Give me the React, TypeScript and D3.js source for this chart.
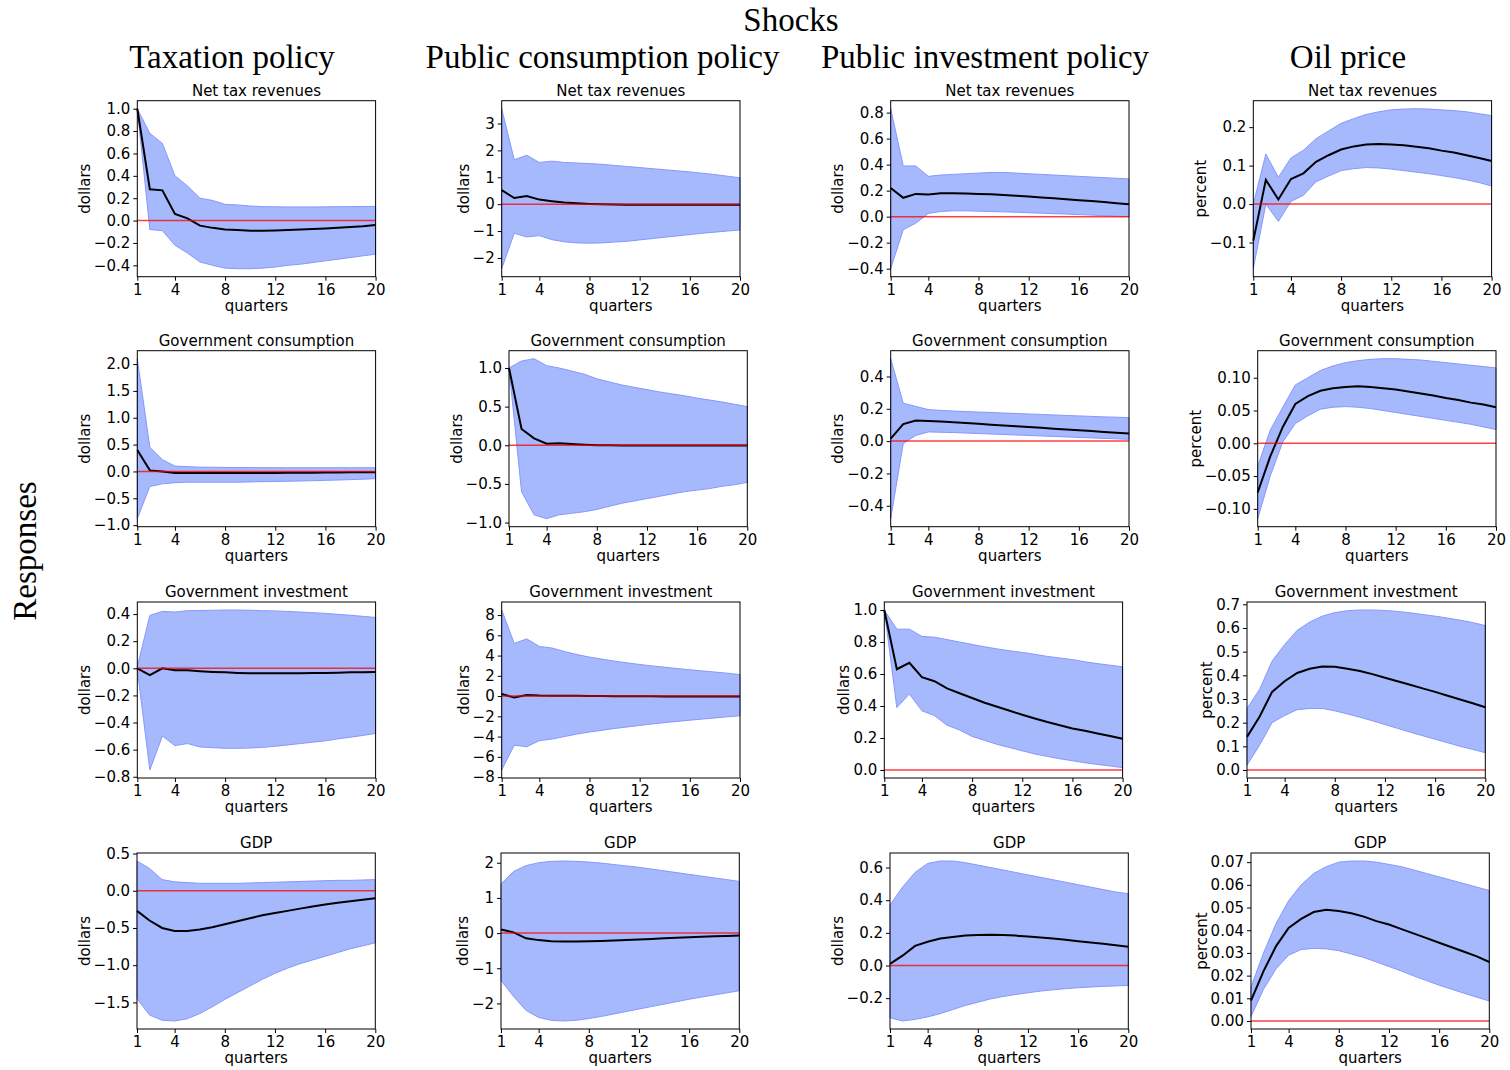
import React, { useEffect, useRef } from "react";
import * as d3 from "d3";

// horizon (quarters after the shock)
const quarters = [1, 2, 3, 4, 5, 6, 7, 8, 9, 10, 11, 12, 13, 14, 15, 16, 17, 18, 19, 20];
const xTicks = [1, 4, 8, 12, 16, 20];

const shocks = ["Taxation policy", "Public consumption policy", "Public investment policy", "Oil price"];
const responses = ["Net tax revenues", "Government consumption", "Government investment", "GDP"];
const units = ["dollars", "dollars", "dollars", "percent"];

// ---- Net tax revenues ----
const taxNtrMed = [1.0, 0.28, 0.27, 0.06, 0.02, -0.045, -0.065, -0.08, -0.085, -0.09, -0.09, -0.088, -0.085, -0.08, -0.075, -0.07, -0.063, -0.057, -0.05, -0.04];
const taxNtrLo = [1.0, -0.08, -0.09, -0.22, -0.29, -0.37, -0.4, -0.425, -0.43, -0.43, -0.425, -0.415, -0.4, -0.39, -0.375, -0.36, -0.345, -0.33, -0.315, -0.3];
const taxNtrHi = [1.0, 0.78, 0.69, 0.4, 0.31, 0.2, 0.18, 0.145, 0.14, 0.13, 0.125, 0.123, 0.122, 0.122, 0.122, 0.123, 0.124, 0.125, 0.126, 0.127];

const conNtrMed = [0.52, 0.23, 0.3, 0.17, 0.11, 0.06, 0.03, 0.01, 0.0, -0.01, -0.02, -0.02, -0.025, -0.025, -0.025, -0.025, -0.025, -0.02, -0.02, -0.02];
const conNtrLo = [-2.4, -1.08, -1.22, -1.17, -1.32, -1.4, -1.44, -1.45, -1.44, -1.41, -1.38, -1.33, -1.28, -1.23, -1.18, -1.13, -1.08, -1.04, -1.0, -0.96];
const conNtrHi = [3.55, 1.65, 1.82, 1.55, 1.6, 1.55, 1.53, 1.51, 1.48, 1.44, 1.4, 1.36, 1.32, 1.28, 1.24, 1.2, 1.15, 1.1, 1.04, 0.98];

const invNtrMed = [0.22, 0.145, 0.175, 0.17, 0.18, 0.18, 0.178, 0.175, 0.172, 0.167, 0.161, 0.155, 0.148, 0.141, 0.134, 0.127, 0.12, 0.112, 0.104, 0.095];
const invNtrLo = [-0.4, -0.1, -0.05, 0.025, 0.04, 0.045, 0.045, 0.042, 0.04, 0.037, 0.034, 0.03, 0.027, 0.023, 0.02, 0.016, 0.012, 0.008, 0.004, 0.0];
const invNtrHi = [0.83, 0.39, 0.39, 0.31, 0.32, 0.325, 0.33, 0.335, 0.34, 0.34, 0.335, 0.33, 0.325, 0.32, 0.315, 0.31, 0.305, 0.3, 0.295, 0.29];

const oilNtrMed = [-0.095, 0.063, 0.012, 0.065, 0.08, 0.11, 0.127, 0.142, 0.15, 0.155, 0.156, 0.155, 0.153, 0.149, 0.145, 0.139, 0.134, 0.127, 0.12, 0.112];
const oilNtrLo = [-0.168, 0.0, -0.045, 0.007, 0.023, 0.058, 0.073, 0.087, 0.092, 0.095, 0.094, 0.091, 0.087, 0.083, 0.079, 0.074, 0.069, 0.063, 0.056, 0.047];
const oilNtrHi = [0.0, 0.13, 0.07, 0.12, 0.14, 0.17, 0.19, 0.21, 0.222, 0.233, 0.24, 0.245, 0.247, 0.248, 0.247, 0.245, 0.243, 0.24, 0.235, 0.23];

// ---- Government consumption ----
const taxGcMed = [0.4, 0.02, 0.0, -0.03, -0.03, -0.03, -0.03, -0.03, -0.03, -0.03, -0.03, -0.028, -0.026, -0.024, -0.022, -0.02, -0.018, -0.016, -0.015, -0.013];
const taxGcLo = [-0.88, -0.28, -0.23, -0.21, -0.2, -0.2, -0.2, -0.2, -0.2, -0.195, -0.19, -0.187, -0.183, -0.178, -0.172, -0.166, -0.16, -0.152, -0.144, -0.135];
const taxGcHi = [2.1, 0.45, 0.22, 0.1, 0.09, 0.08, 0.078, 0.075, 0.073, 0.072, 0.071, 0.07, 0.07, 0.07, 0.07, 0.07, 0.07, 0.07, 0.07, 0.07];

const conGcMed = [1.0, 0.21, 0.09, 0.02, 0.025, 0.015, 0.008, 0.0, 0.0, -0.002, -0.003, -0.004, -0.004, -0.004, -0.004, -0.004, -0.003, -0.003, -0.003, -0.003];
const conGcLo = [1.0, -0.6, -0.9, -0.95, -0.9, -0.88, -0.86, -0.83, -0.79, -0.75, -0.72, -0.69, -0.66, -0.63, -0.6, -0.58, -0.56, -0.53, -0.51, -0.48];
const conGcHi = [1.0, 1.09, 1.12, 1.03, 1.0, 0.96, 0.92, 0.86, 0.82, 0.78, 0.75, 0.72, 0.69, 0.665, 0.64, 0.61, 0.585, 0.56, 0.53, 0.5];

const invGcMed = [0.015, 0.105, 0.127, 0.125, 0.121, 0.117, 0.112, 0.107, 0.102, 0.097, 0.092, 0.087, 0.082, 0.077, 0.072, 0.067, 0.062, 0.057, 0.052, 0.047];
const invGcLo = [-0.48, -0.015, 0.035, 0.057, 0.055, 0.053, 0.05, 0.047, 0.044, 0.041, 0.038, 0.035, 0.032, 0.029, 0.026, 0.023, 0.02, 0.017, 0.014, 0.011];
const invGcHi = [0.51, 0.235, 0.215, 0.195, 0.19, 0.186, 0.183, 0.18, 0.177, 0.174, 0.171, 0.168, 0.165, 0.162, 0.159, 0.156, 0.153, 0.15, 0.148, 0.145];

const oilGcMed = [-0.075, -0.02, 0.025, 0.06, 0.072, 0.08, 0.084, 0.086, 0.087, 0.086, 0.084, 0.082, 0.079, 0.076, 0.073, 0.069, 0.066, 0.062, 0.059, 0.055];
const oilGcLo = [-0.115, -0.05, 0.002, 0.03, 0.042, 0.052, 0.055, 0.056, 0.055, 0.053, 0.05, 0.047, 0.044, 0.041, 0.038, 0.035, 0.032, 0.029, 0.025, 0.021];
const oilGcHi = [-0.035, 0.02, 0.055, 0.089, 0.1, 0.111, 0.118, 0.123, 0.126, 0.128, 0.129, 0.129, 0.128, 0.127, 0.125, 0.123, 0.121, 0.119, 0.117, 0.115];

// ---- Government investment ----
const taxGiMed = [0.0, -0.05, 0.0, -0.015, -0.015, -0.022, -0.027, -0.03, -0.034, -0.036, -0.037, -0.037, -0.037, -0.036, -0.035, -0.034, -0.032, -0.03, -0.029, -0.027];
const taxGiLo = [-0.01, -0.75, -0.5, -0.57, -0.555, -0.58, -0.585, -0.59, -0.59, -0.588, -0.583, -0.575, -0.565, -0.555, -0.545, -0.535, -0.52, -0.508, -0.495, -0.48];
const taxGiHi = [0.01, 0.39, 0.42, 0.415, 0.425, 0.426, 0.428, 0.43, 0.43, 0.428, 0.425, 0.423, 0.419, 0.415, 0.41, 0.405, 0.398, 0.391, 0.383, 0.375];

const conGiMed = [0.2, -0.15, 0.1, 0.05, 0.04, 0.03, 0.02, 0.01, 0.0, -0.01, -0.01, -0.02, -0.02, -0.03, -0.03, -0.03, -0.04, -0.04, -0.04, -0.05];
const conGiLo = [-7.3, -4.85, -5.0, -4.4, -4.25, -4.0, -3.75, -3.55, -3.38, -3.2, -3.05, -2.9, -2.75, -2.62, -2.5, -2.38, -2.27, -2.16, -2.05, -1.95];
const conGiHi = [8.5, 5.2, 5.65, 4.9, 4.75, 4.4, 4.1, 3.85, 3.65, 3.45, 3.28, 3.12, 2.98, 2.85, 2.72, 2.6, 2.48, 2.37, 2.26, 2.12];

const invGiMed = [1.0, 0.63, 0.67, 0.58, 0.555, 0.51, 0.48, 0.45, 0.42, 0.395, 0.37, 0.345, 0.322, 0.3, 0.28, 0.26, 0.245, 0.228, 0.212, 0.195];
const invGiLo = [1.0, 0.39, 0.475, 0.37, 0.34, 0.28, 0.25, 0.21, 0.185, 0.16, 0.14, 0.12, 0.1, 0.085, 0.07, 0.058, 0.045, 0.035, 0.025, 0.015];
const invGiHi = [1.0, 0.88, 0.88, 0.835, 0.83, 0.815, 0.8, 0.785, 0.77, 0.757, 0.745, 0.735, 0.723, 0.71, 0.7, 0.69, 0.676, 0.665, 0.655, 0.645];

const oilGiMed = [0.14, 0.225, 0.33, 0.375, 0.41, 0.428, 0.437, 0.436, 0.428, 0.418, 0.405, 0.39, 0.375, 0.36, 0.345, 0.33, 0.314, 0.298, 0.282, 0.265];
const oilGiLo = [0.02, 0.105, 0.2, 0.23, 0.255, 0.26, 0.26, 0.25, 0.237, 0.223, 0.208, 0.192, 0.176, 0.16, 0.145, 0.13, 0.115, 0.1, 0.087, 0.073];
const oilGiHi = [0.26, 0.34, 0.46, 0.53, 0.59, 0.625, 0.65, 0.665, 0.673, 0.676, 0.676, 0.674, 0.67, 0.664, 0.657, 0.65, 0.642, 0.633, 0.623, 0.61];

// ---- GDP ----
const taxGdpMed = [-0.27, -0.4, -0.5, -0.54, -0.54, -0.52, -0.49, -0.45, -0.41, -0.37, -0.33, -0.3, -0.27, -0.24, -0.21, -0.185, -0.16, -0.14, -0.12, -0.1];
const taxGdpLo = [-1.45, -1.67, -1.74, -1.75, -1.72, -1.65, -1.56, -1.46, -1.37, -1.28, -1.19, -1.11, -1.04, -0.98, -0.93, -0.88, -0.83, -0.78, -0.74, -0.7];
const taxGdpHi = [0.4, 0.3, 0.15, 0.12, 0.11, 0.1, 0.1, 0.1, 0.1, 0.105, 0.11, 0.115, 0.12, 0.125, 0.13, 0.135, 0.14, 0.14, 0.145, 0.15];

const conGdpMed = [0.1, 0.02, -0.15, -0.2, -0.23, -0.24, -0.24, -0.235, -0.225, -0.21, -0.195, -0.18, -0.165, -0.15, -0.135, -0.12, -0.105, -0.09, -0.08, -0.07];
const conGdpLo = [-1.35, -1.8, -2.2, -2.4, -2.48, -2.5, -2.48, -2.43, -2.37, -2.3, -2.23, -2.16, -2.09, -2.02, -1.95, -1.88, -1.82, -1.76, -1.7, -1.64];
const conGdpHi = [1.4, 1.75, 1.92, 2.0, 2.04, 2.05, 2.04, 2.02, 1.99, 1.95, 1.91, 1.87, 1.82, 1.77, 1.72, 1.67, 1.62, 1.57, 1.52, 1.47];

const invGdpMed = [0.01, 0.06, 0.12, 0.145, 0.165, 0.175, 0.183, 0.187, 0.188, 0.187, 0.183, 0.178, 0.172, 0.165, 0.157, 0.149, 0.141, 0.133, 0.124, 0.115];
const invGdpLo = [-0.32, -0.34, -0.33, -0.315, -0.295, -0.27, -0.245, -0.225, -0.205, -0.19, -0.178, -0.167, -0.157, -0.149, -0.142, -0.136, -0.132, -0.128, -0.125, -0.122];
const invGdpHi = [0.37, 0.48, 0.57, 0.625, 0.64, 0.64, 0.63, 0.615, 0.6, 0.585, 0.57, 0.555, 0.54, 0.525, 0.51, 0.495, 0.48, 0.465, 0.45, 0.44];

const oilGdpMed = [0.009, 0.022, 0.033, 0.041, 0.045, 0.048, 0.049, 0.0485, 0.0475, 0.046, 0.044, 0.0425, 0.0405, 0.0385, 0.0365, 0.0345, 0.0325, 0.0305, 0.0285, 0.026];
const oilGdpLo = [0.002, 0.014, 0.023, 0.029, 0.0315, 0.032, 0.0318, 0.031, 0.0295, 0.028, 0.026, 0.024, 0.022, 0.0198, 0.0178, 0.0158, 0.014, 0.0122, 0.0105, 0.0088];
const oilGdpHi = [0.015, 0.03, 0.043, 0.053, 0.06, 0.065, 0.068, 0.07, 0.0705, 0.0705, 0.07, 0.069, 0.068, 0.0665, 0.065, 0.0635, 0.062, 0.0605, 0.059, 0.0575];

// y tick labels per panel (row by row)
const yTicks = [
  [[-0.4, -0.2, 0.0, 0.2, 0.4, 0.6, 0.8, 1.0], [-2, -1, 0, 1, 2, 3], [-0.4, -0.2, 0.0, 0.2, 0.4, 0.6, 0.8], [-0.1, 0.0, 0.1, 0.2]],
  [[-1.0, -0.5, 0.0, 0.5, 1.0, 1.5, 2.0], [-1.0, -0.5, 0.0, 0.5, 1.0], [-0.4, -0.2, 0.0, 0.2, 0.4], [-0.1, -0.05, 0.0, 0.05, 0.1]],
  [[-0.8, -0.6, -0.4, -0.2, 0.0, 0.2, 0.4], [-8, -6, -4, -2, 0, 2, 4, 6, 8], [0.0, 0.2, 0.4, 0.6, 0.8, 1.0], [0.0, 0.1, 0.2, 0.3, 0.4, 0.5, 0.6, 0.7]],
  [[-1.5, -1.0, -0.5, 0.0, 0.5], [-2, -1, 0, 1, 2], [-0.2, 0.0, 0.2, 0.4, 0.6], [0.0, 0.01, 0.02, 0.03, 0.04, 0.05, 0.06, 0.07]],
];
const yDecimals = [
  [1, 0, 1, 1],
  [1, 1, 1, 2],
  [1, 0, 1, 1],
  [1, 0, 1, 2],
];

const grid = [
  [[taxNtrMed, taxNtrLo, taxNtrHi], [conNtrMed, conNtrLo, conNtrHi], [invNtrMed, invNtrLo, invNtrHi], [oilNtrMed, oilNtrLo, oilNtrHi]],
  [[taxGcMed, taxGcLo, taxGcHi], [conGcMed, conGcLo, conGcHi], [invGcMed, invGcLo, invGcHi], [oilGcMed, oilGcLo, oilGcHi]],
  [[taxGiMed, taxGiLo, taxGiHi], [conGiMed, conGiLo, conGiHi], [invGiMed, invGiLo, invGiHi], [oilGiMed, oilGiLo, oilGiHi]],
  [[taxGdpMed, taxGdpLo, taxGdpHi], [conGdpMed, conGdpLo, conGdpHi], [invGdpMed, invGdpLo, invGdpHi], [oilGdpMed, oilGdpLo, oilGdpHi]],
];

// layout (px)
const W = 1510;
const H = 1070;
const panelW = 238.3;
const panelH = 176;
const panelTop = [100.7, 350.7, 602, 853];
const panelLeft = [
  [137.3, 501.7, 890.7, 1253.3],
  [137.3, 509, 890.7, 1257.7],
  [137.3, 501.7, 884.3, 1247],
  [137, 501, 890, 1251],
];
const shockCenter = [232, 602.5, 985, 1348];

const serif = "'Liberation Serif', 'Times New Roman', serif";
const sans = "'DejaVu Sans', sans-serif";

const App = () => {
  const ref = useRef<SVGSVGElement>(null);

  useEffect(() => {
    const svg = d3.select(ref.current);
    svg.selectAll("*").remove();
    svg.append("rect").attr("width", W).attr("height", H).attr("fill", "white");

    svg.append("text")
      .attr("x", 791).attr("y", 31)
      .attr("text-anchor", "middle")
      .style("font-family", serif).style("font-size", "33px")
      .text("Shocks");

    shocks.forEach((s, i) => {
      svg.append("text")
        .attr("x", shockCenter[i]).attr("y", 68)
        .attr("text-anchor", "middle")
        .style("font-family", serif).style("font-size", "33px")
        .text(s);
    });

    svg.append("text")
      .attr("transform", "translate(36,551) rotate(-90)")
      .attr("text-anchor", "middle")
      .style("font-family", serif).style("font-size", "33px")
      .text("Responses");

    const x = d3.scaleLinear().domain([1, 20]).range([0, panelW]);

    grid.forEach((row, r) => {
      row.forEach(([med, lo, hi], c) => {
        const g = svg.append("g")
          .attr("transform", `translate(${panelLeft[r][c]},${panelTop[r]})`);

        // matplotlib-like autoscale: data extent (with the zero line) plus 5% margins
        const ext = d3.extent([...lo, ...hi, ...med, 0]) as [number, number];
        const pad = (ext[1] - ext[0]) * 0.05;
        const y = d3.scaleLinear().domain([ext[0] - pad, ext[1] + pad]).range([panelH, 0]);

        const band = d3.area<number>()
          .x((d) => x(d))
          .y0((d, i) => y(lo[i]))
          .y1((d, i) => y(hi[i]));
        g.append("path")
          .datum(quarters)
          .attr("d", band)
          .attr("fill", "#a6b9fc")
          .attr("stroke", "#8797fd")
          .attr("stroke-width", 1);

        const line = d3.line<number>()
          .x((d) => x(d))
          .y((d, i) => y(med[i]));
        g.append("path")
          .datum(quarters)
          .attr("d", line)
          .attr("fill", "none")
          .attr("stroke", "black")
          .attr("stroke-width", 2);

        g.append("line")
          .attr("x1", 0).attr("x2", panelW)
          .attr("y1", y(0)).attr("y2", y(0))
          .attr("stroke", "red")
          .attr("stroke-opacity", 0.75)
          .attr("stroke-width", 1.5);

        const dom = y.domain();
        const tol = (dom[1] - dom[0]) * 0.004;
        const ticks = yTicks[r][c].filter((t) => t >= dom[0] - tol && t <= dom[1] + tol);

        const yAxis = g.append("g")
          .call(
            d3.axisLeft(y)
              .tickValues(ticks)
              .tickFormat(d3.format(`.${yDecimals[r][c]}f`) as any)
              .tickSize(4)
              .tickPadding(3)
          );
        const xAxis = g.append("g")
          .attr("transform", `translate(0,${panelH})`)
          .call(
            d3.axisBottom(x)
              .tickValues(xTicks)
              .tickFormat(d3.format("d") as any)
              .tickSize(4)
              .tickPadding(3.5)
          );
        [yAxis, xAxis].forEach((a) => {
          a.attr("font-family", sans).attr("font-size", 15);
          a.select(".domain").remove();
          a.selectAll("text").attr("fill", "black");
          a.selectAll("line").attr("stroke", "black").attr("stroke-width", 1);
        });

        g.append("rect")
          .attr("width", panelW).attr("height", panelH)
          .attr("fill", "none")
          .attr("stroke", "black")
          .attr("stroke-width", 1);

        g.append("text")
          .attr("x", panelW / 2).attr("y", -5)
          .attr("text-anchor", "middle")
          .style("font-family", sans).style("font-size", "15px")
          .text(responses[r]);

        g.append("text")
          .attr("x", panelW / 2).attr("y", panelH + 34)
          .attr("text-anchor", "middle")
          .style("font-family", sans).style("font-size", "15px")
          .text("quarters");

        const bb = (yAxis.node() as SVGGElement).getBBox();
        g.append("text")
          .attr("transform", `translate(${bb.x - 4},${panelH / 2}) rotate(-90)`)
          .attr("text-anchor", "middle")
          .style("font-family", sans).style("font-size", "15px")
          .text(units[c]);
      });
    });
  }, []);

  return (
    <svg
      ref={ref}
      width={W}
      height={H}
      style={{ position: "absolute", left: 0, top: 0 }}
    />
  );
};

export default App;
